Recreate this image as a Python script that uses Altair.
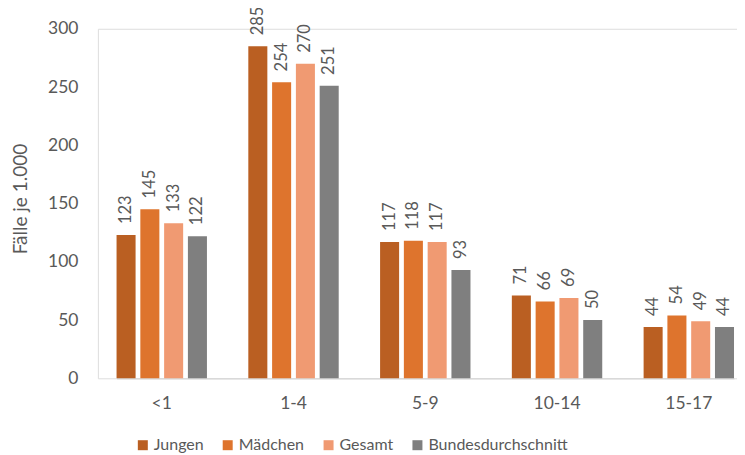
import altair as alt
import pandas as pd

groups = ["<1", "1-4", "5-9", "10-14", "15-17"]
series = ["Jungen", "Mädchen", "Gesamt", "Bundesdurchschnitt"]
jungen = [123, 285, 117, 71, 44]
maedchen = [145, 254, 118, 66, 54]
gesamt = [133, 270, 117, 69, 49]
bund = [122, 251, 93, 50, 44]
colors = ["#BA5F22", "#DE742D", "#F09A72", "#7F7F7F"]

rows = []
for s, vals in zip(series, [jungen, maedchen, gesamt, bund]):
    for g, v in zip(groups, vals):
        rows.append({"Alter": g, "Serie": s, "Wert": v})
df = pd.DataFrame(rows)

FONT = "Lato"
GRAY = "#595959"

x = alt.X("Alter:N", sort=groups,
          scale=alt.Scale(range=[18.7, 637], paddingInner=0.314, paddingOuter=0),
          axis=alt.Axis(title=None, labelAngle=0, ticks=False, labelPadding=16,
                        labelFontSize=17.5, labelColor=GRAY, labelFont=FONT,
                        domainColor="#D9D9D9", domainWidth=1.5))
xo = alt.XOffset("Serie:N", sort=series,
                 scale=alt.Scale(paddingInner=0.2, paddingOuter=0))
y = alt.Y("Wert:Q", scale=alt.Scale(domain=[0, 300]),
          axis=alt.Axis(title="Fälle je 1.000", values=[0, 50, 100, 150, 200, 250, 300],
                        grid=False, domain=False, ticks=False, labelPadding=20,
                        labelFontSize=17.5, labelColor=GRAY, labelFont=FONT,
                        titleFontSize=19, titleColor=GRAY, titleFont=FONT,
                        titleFontWeight="normal", titleX=-67, titleY=170))
color = alt.Color("Serie:N", sort=series,
                  scale=alt.Scale(domain=series, range=colors),
                  legend=alt.Legend(title=None, orient="none", direction="horizontal",
                                    legendX=37, legendY=409, symbolType="square",
                                    symbolSize=100, symbolStrokeWidth=0,
                                    labelFontSize=16, labelColor=GRAY, labelFont=FONT,
                                    labelOffset=3, columnPadding=16))

bars = alt.Chart(df).mark_bar().encode(x=x, xOffset=xo, y=y, color=color)
labels = alt.Chart(df).mark_text(angle=270, align="left", baseline="middle", dx=11,
                                 fontSize=16.5, font=FONT, color=GRAY).encode(
    x=x, xOffset=xo, y=y, text=alt.Text("Wert:Q"))

chart = (bars + labels).properties(
    width=640, height=350,
    autosize=alt.AutoSizeParams(type="none"),
    padding={"left": 90, "top": 20.5, "right": 0, "bottom": 76.5},
).configure_view(stroke=None).configure(background="white")

chart.save("out.html", embed_options={"renderer": "svg", "actions": False})
